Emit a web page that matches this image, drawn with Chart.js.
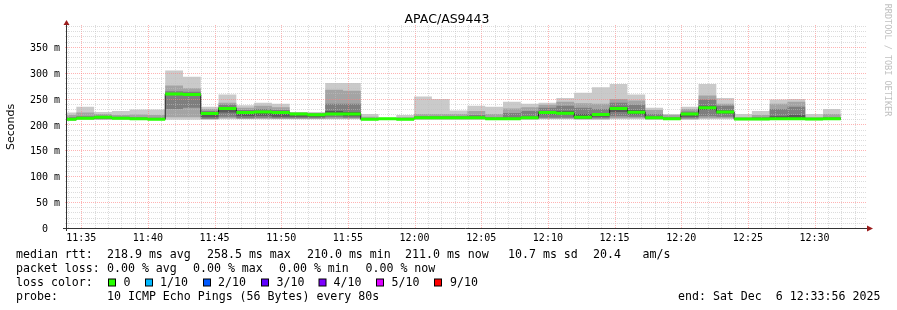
<!DOCTYPE html>
<html>
<head>
<meta charset="utf-8">
<script src="https://cdn.jsdelivr.net/npm/chart.js@4.4.1/dist/chart.umd.min.js"></script>
<style>
  html, body { margin: 0; padding: 0; background: #fff; }
  canvas { display: block; }
</style>
</head>
<body>
<canvas id="rtt" width="897" height="310"></canvas>
<script>
// start of each 80s step (the first one is cut off by the left edge)
const stepStart = [
  '11:33:18','11:34:38','11:35:58','11:37:18','11:38:38','11:39:58','11:41:18','11:42:38',
  '11:43:58','11:45:18','11:46:38','11:47:58','11:49:18','11:50:38','11:51:58','11:53:18',
  '11:54:38','11:55:58','11:57:18','11:58:38','11:59:58','12:01:18','12:02:38','12:03:58',
  '12:05:18','12:06:38','12:07:58','12:09:18','12:10:38','12:11:58','12:13:18','12:14:38',
  '12:15:58','12:17:18','12:18:38','12:19:58','12:21:18','12:22:38','12:23:58','12:25:18',
  '12:26:38','12:27:58','12:29:18','12:30:38'
];
const stepEnd = '12:31:58';
const viewStart = '11:33:56';
const viewEnd = '12:33:56';

// median rtt per step (ms)
const medianRtt = [
  210, 212, 214, 212, 211, 210, 259, 258, 221, 231, 223, 224, 223, 220, 218.5, 220,
  220, 210, 211, 210, 212.7, 212.7, 212.7, 212.7, 211, 211, 212.7, 223, 221.7, 214, 219, 230.7,
  223.7, 212.7, 211, 220, 232, 224, 210.7, 210.7, 211, 211, 210.7, 211
];

// the 10 sorted ping rtts per step (ms)
const pingRtt = [
  [207,208,209,210,210,210,211,214,218,223],
  [209,210,211,211,212,212,213,216,223,234],
  [209,210,210,212,213,214,215,217,220,224],
  [209,210,211,211,212,212,213,215,218,226],
  [209,209,210,210,211,211,212,214,219,229],
  [209,209,210,210,210,210,211,213,218,229],
  [209,214,230,257,258,259,260,264,275,304],
  [209,214,232,256,257,258,259,263,270,292],
  [209,210,211,214,220,221,222,226,230,234],
  [210,212,215,223,230,231,233,238,242,258],
  [210,211,212,216,222,223,224,228,232,237],
  [210,211,213,217,223,224,225,230,236,242],
  [210,211,212,215,222,223,224,228,233,240],
  [210,211,212,215,219,220,221,222,223,224],
  [210,211,212,215,218,218,219,221,222,224],
  [210,211,214,218,219,220,226,240,267,280],
  [210,211,213,216,219,220,224,240,265,280],
  [208,209,209,210,210,210,211,212,215,220],
  [209,210,210,210,211,211,211,212,212,213],
  [208,209,209,210,210,210,211,212,214,218],
  [209,210,211,212,212,213,214,216,220,254],
  [209,210,211,212,212,213,214,216,220,249],
  [209,210,211,212,212,213,214,216,220,227],
  [209,210,211,212,212,213,214,218,226,236],
  [209,210,210,211,211,211,212,214,220,234],
  [209,210,211,211,211,212,213,222,231,244],
  [209,210,211,212,212,213,215,226,233,240],
  [210,211,213,219,222,224,226,232,238,242],
  [210,211,213,219,221,222,226,236,244,251],
  [209,210,211,212,213,215,220,232,241,261],
  [209,210,212,215,218,220,222,230,240,272],
  [210,212,216,224,230,231,234,242,249,278],
  [210,212,215,219,223,224,228,238,246,258],
  [209,210,211,212,212,213,215,220,228,232],
  [209,210,210,210,211,211,212,214,218,220],
  [209,210,212,215,219,220,222,225,230,234],
  [210,212,216,228,231,233,236,248,256,278],
  [210,212,215,221,223,225,227,236,240,251],
  [208,209,209,210,210,211,211,212,214,220],
  [208,209,209,210,210,211,212,214,218,226],
  [209,210,211,212,212,213,216,230,240,248],
  [209,210,211,212,212,213,218,234,244,249],
  [208,209,209,210,210,211,211,212,214,220],
  [209,210,210,210,211,211,212,214,220,230]
];

const xTicks = ['11:35','11:40','11:45','11:50','11:55','12:00','12:05','12:10','12:15','12:20','12:25','12:30'];
const yTicks = [0, 50, 100, 150, 200, 250, 300, 350];
const yMax = 392;

const lossLabels = ['0', '1/10', '2/10', '3/10', '4/10', '5/10', '9/10'];
const lossColors = ['#26ff00', '#00b8ff', '#0059ff', '#5e00ff', '#7e00ff', '#dd00ff', '#ff0000'];
const smokeShades = ['#cacaca', '#a4a4a4', '#7e7e7e', '#585858', '#323232'];

const MONO = '"DejaVu Sans Mono", monospace';
const SANS = '"DejaVu Sans", sans-serif';

function toMin(s) {
  const p = s.split(':').map(Number);
  return p[0] * 60 + p[1] + (p[2] || 0) / 60;
}
function fmtMin(v) {
  const h = Math.floor(v / 60), m = Math.round(v - h * 60);
  return h + ':' + String(m).padStart(2, '0');
}

const xs = stepStart.map(toMin).concat([toMin(stepEnd)]);

function stepSeries(vals) {
  const pts = vals.map((v, i) => ({ x: xs[i], y: v }));
  pts.push({ x: xs[xs.length - 1], y: vals[vals.length - 1] });
  return pts;
}

let datasets = [];
for (let b = 0; b < 5; b++) {
  datasets.push({
    data: stepSeries(pingRtt.map(r => r[b])),
    stepped: 'before', borderWidth: 0, borderColor: 'rgba(0,0,0,0)',
    pointRadius: 0, fill: false, order: 100
  });
  datasets.push({
    data: stepSeries(pingRtt.map(r => r[9 - b])),
    stepped: 'before', borderWidth: 0, borderColor: 'rgba(0,0,0,0)',
    pointRadius: 0, fill: '-1', backgroundColor: smokeShades[b],
    order: 60 - b * 10, gridAfter: b === 4
  });
}

// thin dark median line with vertical connectors
datasets.push({
  data: stepSeries(medianRtt),
  stepped: 'before', borderColor: '#202020', borderWidth: 1,
  pointRadius: 0, fill: false, order: 5
});

// loss-coloured median bars, one per step
let bars = [];
medianRtt.forEach((m, i) => {
  bars.push({ x: xs[i], y: m }, { x: xs[i + 1], y: m }, { x: xs[i + 1], y: null });
});
datasets.push({
  data: bars, borderColor: lossColors[0], borderWidth: 3, borderCapStyle: 'butt',
  pointRadius: 0, fill: false, spanGaps: false, order: 1
});

function drawGrid(chart) {
  const ctx = chart.ctx, a = chart.chartArea;
  const xs_ = chart.scales.x, ys_ = chart.scales.y;
  ctx.save();
  ctx.lineWidth = 1;
  ctx.setLineDash([1, 1]);
  for (let m = Math.ceil(xs_.min); m <= xs_.max; m++) {
    const x = Math.round(xs_.getPixelForValue(m)) + 0.5;
    ctx.strokeStyle = m % 5 === 0 ? 'rgba(255,128,128,0.6)' : 'rgba(192,192,192,0.55)';
    ctx.beginPath(); ctx.moveTo(x, a.bottom); ctx.lineTo(x, a.top); ctx.stroke();
  }
  for (let v = 10; v <= ys_.max; v += 10) {
    const y = Math.round(ys_.getPixelForValue(v)) + 0.5;
    ctx.strokeStyle = v % 50 === 0 ? 'rgba(255,128,128,0.6)' : 'rgba(192,192,192,0.55)';
    ctx.beginPath(); ctx.moveTo(a.left - 2, y); ctx.lineTo(a.right, y); ctx.stroke();
  }
  ctx.restore();
}

const smokeping = {
  id: 'smokeping',
  beforeDraw(chart) {
    const ctx = chart.ctx;
    ctx.save();
    ctx.fillStyle = '#fff';
    ctx.fillRect(0, 0, chart.width, chart.height);
    ctx.restore();
  },
  afterDatasetDraw(chart, args) {
    if (chart.data.datasets[args.index].gridAfter) drawGrid(chart);
  },
  afterDraw(chart) {
    const ctx = chart.ctx, a = chart.chartArea;
    ctx.save();
    // axes
    ctx.strokeStyle = '#333';
    ctx.lineWidth = 1;
    ctx.beginPath();
    ctx.moveTo(a.left - 0.5, a.bottom + 3); ctx.lineTo(a.left - 0.5, a.top - 1);
    ctx.moveTo(a.left - 4, a.bottom + 0.5); ctx.lineTo(a.right + 1, a.bottom + 0.5);
    ctx.stroke();
    ctx.fillStyle = '#9b1c1c';
    ctx.beginPath();
    ctx.moveTo(a.left - 3.5, a.top); ctx.lineTo(a.left + 2.5, a.top); ctx.lineTo(a.left - 0.5, a.top - 5);
    ctx.closePath(); ctx.fill();
    ctx.beginPath();
    ctx.moveTo(a.right, a.bottom - 2.5); ctx.lineTo(a.right, a.bottom + 3.5); ctx.lineTo(a.right + 6, a.bottom + 0.5);
    ctx.closePath(); ctx.fill();

    // title
    ctx.fillStyle = '#000';
    ctx.textBaseline = 'middle';
    ctx.textAlign = 'center';
    ctx.font = '12.5px ' + SANS;
    ctx.fillText('APAC/AS9443', 447, 20);

    // vertical label
    ctx.save();
    ctx.translate(11, 127);
    ctx.rotate(-Math.PI / 2);
    ctx.font = '11px ' + SANS;
    ctx.fillText('Seconds', 0, 0);
    ctx.restore();

    // watermark
    ctx.save();
    ctx.translate(887, 60);
    ctx.rotate(Math.PI / 2);
    ctx.fillStyle = '#c0c0c0';
    ctx.font = '8.5px ' + MONO;
    ctx.fillText('RRDTOOL / TOBI OETIKER', 0, 0);
    ctx.restore();

    // legend
    ctx.textAlign = 'left';
    ctx.font = '11.6px ' + MONO;
    ctx.fillStyle = '#000';
    const put = (t, x, y) => ctx.fillText(t, x, y);
    put('median rtt:', 16, 254.5);
    put('218.9 ms avg', 107, 254.5);
    put('258.5 ms max', 207, 254.5);
    put('210.0 ms min', 307, 254.5);
    put('211.0 ms now', 405, 254.5);
    put('10.7 ms sd', 508, 254.5);
    put('20.4', 593, 254.5);
    put('am/s', 642.5, 254.5);

    put('packet loss:', 16, 268.5);
    put('0.00 % avg', 107, 268.5);
    put('0.00 % max', 193, 268.5);
    put('0.00 % min', 279, 268.5);
    put('0.00 % now', 365.5, 268.5);

    put('loss color:', 16, 282.5);
    const boxX = [108.5, 145.5, 203.5, 261.5, 319, 376.5, 434.5];
    const txtX = [123.5, 160, 218, 276.5, 333.5, 391.5, 450];
    lossLabels.forEach((l, i) => {
      ctx.fillStyle = lossColors[i];
      ctx.fillRect(boxX[i], 279, 7, 7);
      ctx.strokeStyle = '#000';
      ctx.strokeRect(boxX[i], 279, 7, 7);
      ctx.fillStyle = '#000';
      put(l, txtX[i], 282.5);
    });

    put('probe:', 16, 296.5);
    put('10 ICMP Echo Pings (56 Bytes) every 80s', 107, 296.5);
    put('end: Sat Dec  6 12:33:56 2025', 678, 296.5);
    ctx.restore();
  }
};

new Chart(document.getElementById('rtt'), {
  type: 'line',
  data: { datasets },
  options: {
    responsive: false,
    animation: false,
    devicePixelRatio: 1,
    events: [],
    layout: { padding: { left: 0, right: 30, top: 25, bottom: 0 } },
    plugins: { legend: { display: false }, tooltip: { enabled: false }, title: { display: false } },
    scales: {
      x: {
        type: 'linear',
        min: toMin(viewStart),
        max: toMin(viewEnd),
        grid: { display: false, drawTicks: false },
        border: { display: false },
        ticks: {
          font: { family: MONO, size: 10 }, color: '#000', padding: 4,
          autoSkip: false, maxRotation: 0, callback: v => fmtMin(v)
        },
        afterBuildTicks: s => { s.ticks = xTicks.map(t => ({ value: toMin(t) })); },
        afterFit: s => { s.height = 82; }
      },
      y: {
        min: 0,
        max: yMax,
        grid: { display: false, drawTicks: false },
        border: { display: false },
        ticks: {
          font: { family: MONO, size: 10 }, color: '#000', padding: 7, labelOffset: 1.5,
          callback: v => v === 0 ? '0  ' : v + ' m'
        },
        afterBuildTicks: s => { s.ticks = yTicks.map(v => ({ value: v })); },
        afterFit: s => { s.width = 67; }
      }
    }
  },
  plugins: [smokeping]
});
</script>
</body>
</html>
